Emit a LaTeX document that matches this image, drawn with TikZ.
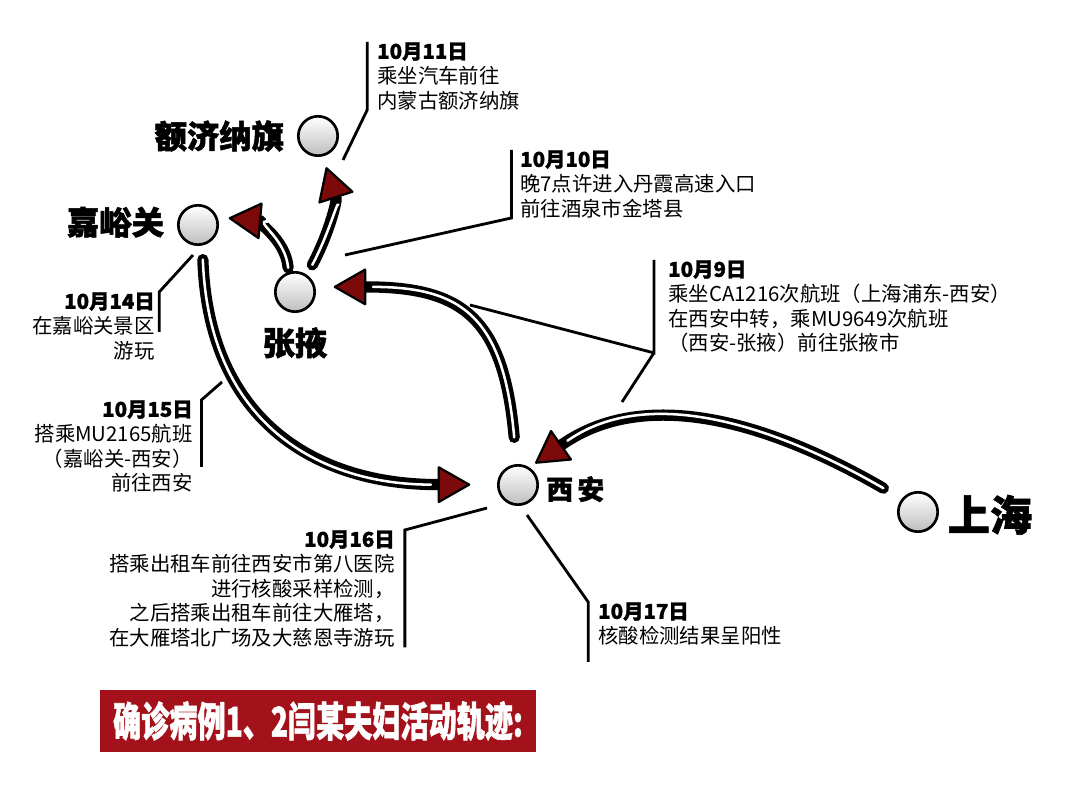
\documentclass[tikz,border=0pt]{standalone}
\usepackage{fontspec}
\newfontfamily\cjk[BoldFeatures={FakeBold=1.5}]{Noto Sans CJK SC}
\usetikzlibrary{arrows.meta,positioning}
\definecolor{trailRed}{HTML}{7D0A0A}
\definecolor{titleRed}{HTML}{A3121B}
\definecolor{ballGrey}{HTML}{BEBEBE}

\tikzset{
  city/.style={circle, draw=black, line width=1.9pt, minimum size=28pt, inner sep=0pt,
    top color=white, middle color=white, bottom color=ballGrey},
  place/.style={font=\cjk\bfseries\fontsize{#1}{#1}\selectfont, inner sep=0pt},
  note/.style={font=\cjk\fontsize{14.5}{17.5}\selectfont, inner sep=0pt},
  leader/.style={line width=2pt},
  trail/.style={line width=8pt, line cap=round, shorten >=#1,
    -{Triangle[round,length=24pt,width=27pt,fill=trailRed,line width=1.6pt]},
    postaction={draw=white, line width=1.8pt, -, shorten >=#1+28pt}},
}

\begin{document}
\begin{tikzpicture}[x=0.025cm,y=0.025cm]
    \useasboundingbox (0,0) rectangle (1080,802);
    % stops on the route
    \node[city] (ejn) at (318,666) {};
    \node[city] (jyg) at (198,577) {};
    \node[city] (zy) at (295,510) {};
    \node[city] (xa) at (518,317) {};
    \node[city] (sh) at (918,290) {};
    \node[place=23, left=9pt of ejn] (ejnName) {额济纳旗};
    \node[place=23, left=9pt of jyg, yshift=2pt] (jygName) {嘉峪关};
    \node[place=23, below=10pt of zy] (zyName) {张掖};
    \node[place=19, right=5pt of xa, yshift=-3pt] (xaName) {西\,安};
    \node[place=30, right=6pt of sh, yshift=-2pt] (shName) {上海};
    % travel arrows
    \draw[trail=5pt, shorten <=15pt] (sh.141) to[out=150,in=35] (xa.57);
    \draw[trail=13pt, shorten <=19pt] (xa.94) to[out=95,in=0,looseness=1.4] (zy.14);
    \draw[trail=8pt, shorten <=3pt] (zy.108) to[out=95,in=-5] (jyg.22);
    \draw[trail=8pt, shorten <=8pt] (zy.55) to[out=62,in=-72] (ejn.283);
    \draw[trail=19pt, shorten <=10pt] (jyg.-78) to[out=-88,in=180,looseness=1.2] (xa.179);
    % notes
    \node[note, anchor=north west, align=left] (n11) at (377,760)
      {{\bfseries 10月11日}\\乘坐汽车前往\\内蒙古额济纳旗};
    \node[note, anchor=north west, align=left] (n10) at (520,652)
      {{\bfseries 10月10日}\\晚7点许进入丹霞高速入口\\前往酒泉市金塔县};
    \node[note, anchor=north west, align=left] (n9) at (668,542)
      {{\bfseries 10月9日}\\乘坐CA1216次航班（上海浦东-西安）\\在西安中转，乘MU9649次航班\\（西安-张掖）前往张掖市};
    \node[note, anchor=north east, align=right] (n14) at (155,510)
      {{\bfseries 10月14日}\\在嘉峪关景区\\游玩};
    \node[note, anchor=north east, align=right] (n15) at (193,402)
      {{\bfseries 10月15日}\\搭乘MU2165航班\\（嘉峪关-西安）\\前往西安};
    \node[note, anchor=north east, align=right] (n16) at (395,272)
      {{\bfseries 10月16日}\\搭乘出租车前往西安市第八医院\\进行核酸采样检测，\\之后搭乘出租车前往大雁塔，\\在大雁塔北广场及大慈恩寺游玩};
    \node[note, anchor=north west, align=left] (n17) at (598,200)
      {{\bfseries 10月17日}\\核酸检测结果呈阳性};
    % leaders
    \coordinate (l11) at (343,642);
    \coordinate (l10) at (345,547);
    \coordinate (l9a) at (470,497);
    \coordinate (l9b) at (622,400);
    \coordinate (l14) at (193,547);
    \coordinate (l15) at (222,420);
    \coordinate (l16) at (487,294);
    \coordinate (l17) at (527,287);
    \draw[leader] (l11) -- ([xshift=-7pt]n11.south west) -- ([xshift=-7pt]n11.north west);
    \draw[leader] (l10) -- ([xshift=-6pt]n10.south west) -- ([xshift=-6pt]n10.north west);
    \draw[leader] (l9a) -- ([xshift=-10pt]n9.south west) coordinate (b9) -- ([xshift=-10pt]n9.north west);
    \draw[leader] (b9) -- (l9b);
    \draw[leader] (l14) -- ([xshift=3pt]n14.north east) -- ++(0,-40);
    \draw[leader] (l15) -- ([xshift=6pt]n15.north east) -- ++(0,-67);
    \draw[leader] (l16) -- ([xshift=7pt]n16.north east) -- ([xshift=7pt]n16.south east);
    \draw[leader] (l17) -- ([xshift=-7pt]n17.north west) -- ++(0,-60);
    % title
    \node[fill=titleRed, text=white, minimum width=310pt, minimum height=44pt, inner sep=0pt,
      font=\cjk\bfseries\fontsize{20}{20}\selectfont] (title) at (318,81)
      {\scalebox{1}[1.45]{确诊病例1、2闫某夫妇活动轨迹:}};
\end{tikzpicture}
\end{document}
